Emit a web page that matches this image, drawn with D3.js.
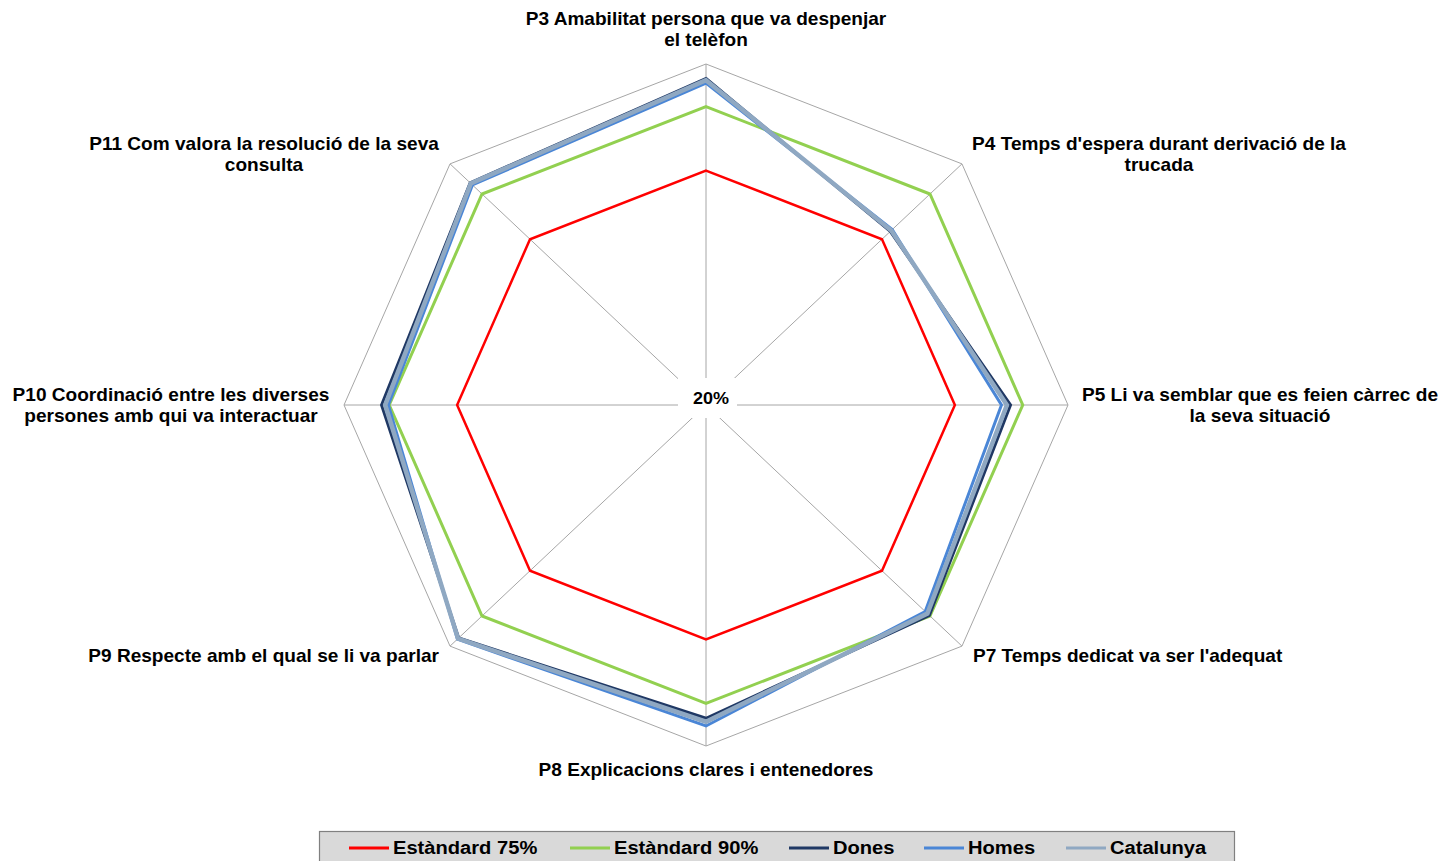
<!DOCTYPE html>
<html>
<head>
<meta charset="utf-8">
<script src="https://cdn.jsdelivr.net/npm/d3@7"></script>
<style>
  body { margin: 0; background: #fff; }
  text { font-family: "Liberation Sans", Arial, sans-serif; font-weight: bold; fill: #000; }
</style>
</head>
<body>
<svg width="1441" height="861"></svg>
<script>
// axes, clockwise from top
var axes = [
  "P3 Amabilitat persona que va despenjar\nel telèfon",
  "P4 Temps d'espera durant derivació de la\ntrucada",
  "P5 Li va semblar que es feien càrrec de\nla seva situació",
  "P7 Temps dedicat va ser l'adequat",
  "P8 Explicacions clares i entenedores",
  "P9 Respecte amb el qual se li va parlar",
  "P10 Coordinació entre les diverses\npersones amb qui va interactuar",
  "P11 Com valora la resolució de la seva\nconsulta"
];
var estandard75 = [0.75, 0.75, 0.75, 0.75, 0.75, 0.75, 0.75, 0.75];
var estandard90 = [0.90, 0.90, 0.90, 0.90, 0.90, 0.90, 0.90, 0.90];
var dones     = [0.966, 0.776, 0.873, 0.898, 0.935, 0.973, 0.917, 0.937];
var homes     = [0.955, 0.782, 0.853, 0.885, 0.953, 0.977, 0.902, 0.930];
var catalunya = [0.962, 0.779, 0.865, 0.892, 0.943, 0.975, 0.909, 0.935];
var scaleMin = 0.2, scaleMax = 1.0;
var centreLabel = "20%";

var series = [
  {name: "Estàndard 75%", values: estandard75, color: "#ff0000", width: 2.5},
  {name: "Estàndard 90%", values: estandard90, color: "#92d050", width: 3},
  {name: "Dones", values: dones, color: "#1f3864", width: 3},
  {name: "Homes", values: homes, color: "#4a86d6", width: 3},
  {name: "Catalunya", values: catalunya, color: "#8fa8c2", width: 4.5}
];

var svg = d3.select("svg"),
    cx = 706, cy = 405, Rx = 362, Ry = 341,
    stretch = 1.06; // the original is slightly wider than tall

var rx = d3.scaleLinear().domain([scaleMin, scaleMax]).range([0, Rx]);
var ry = d3.scaleLinear().domain([scaleMin, scaleMax]).range([0, Ry]);
var angle = d3.scaleLinear().domain([0, axes.length]).range([-Math.PI / 2, 1.5 * Math.PI]);

function px(v, i) { return cx + rx(v) * Math.cos(angle(i)); }
function py(v, i) { return cy + ry(v) * Math.sin(angle(i)); }

// text drawn with the same horizontal stretch
function addText(parent, x, y, size, anchor) {
  return parent.append("text")
    .attr("transform", "translate(" + x + "," + y + ") scale(" + stretch + ",1)")
    .attr("text-anchor", anchor)
    .style("font-size", size + "px");
}

var g = svg.append("g");

// spokes
g.selectAll(".spoke").data(axes).enter().append("line")
  .attr("x1", cx).attr("y1", cy)
  .attr("x2", function(d, i) { return px(scaleMax, i); })
  .attr("y2", function(d, i) { return py(scaleMax, i); })
  .attr("stroke", "#a6a6a6").attr("stroke-width", 1);

// outer ring
var ring = d3.line().x(function(d, i) { return px(scaleMax, i); }).y(function(d, i) { return py(scaleMax, i); }).curve(d3.curveLinearClosed);
g.append("path").attr("d", ring(axes)).attr("fill", "none").attr("stroke", "#a6a6a6").attr("stroke-width", 1);

// centre label
g.append("rect").attr("x", 678).attr("y", 378).attr("width", 59).attr("height", 40).attr("fill", "#fff");
addText(g, 711, 404, 17, "middle").text(centreLabel);

// series
var line = d3.line().x(function(d, i) { return px(d, i); }).y(function(d, i) { return py(d, i); }).curve(d3.curveLinearClosed);
g.selectAll(".serie").data(series).enter().append("path")
  .attr("d", function(d) { return line(d.values); })
  .attr("fill", "none")
  .attr("stroke", function(d) { return d.color; })
  .attr("stroke-width", function(d) { return d.width; })
  .attr("stroke-linejoin", "miter");

// axis labels
var labelPos = [
  {x: 706, y: 25, anchor: "middle"},
  {x: 1159, y: 150, anchor: "middle"},
  {x: 1260, y: 401, anchor: "middle"},
  {x: 973, y: 662, anchor: "start"},
  {x: 706, y: 776, anchor: "middle"},
  {x: 439, y: 662, anchor: "end"},
  {x: 171, y: 401, anchor: "middle"},
  {x: 264, y: 150, anchor: "middle"}
];
axes.forEach(function(label, i) {
  var t = addText(svg, labelPos[i].x, labelPos[i].y, 18, labelPos[i].anchor);
  label.split("\n").forEach(function(s, k) {
    t.append("tspan").attr("x", 0).attr("y", k * 21).text(s);
  });
});

// legend
var legend = svg.append("g");
legend.append("rect").attr("x", 319.5).attr("y", 831.5).attr("width", 915).attr("height", 40)
  .attr("fill", "#d9d9d9").attr("stroke", "#808080").attr("stroke-width", 1.2);
var legendX = [349, 570, 789, 924, 1066];
series.forEach(function(s, i) {
  legend.append("line").attr("x1", legendX[i]).attr("x2", legendX[i] + 40)
    .attr("y1", 848).attr("y2", 848)
    .attr("stroke", s.color).attr("stroke-width", 3);
  addText(legend, legendX[i] + 44, 854, 19, "start").text(s.name);
});
</script>
</body>
</html>
